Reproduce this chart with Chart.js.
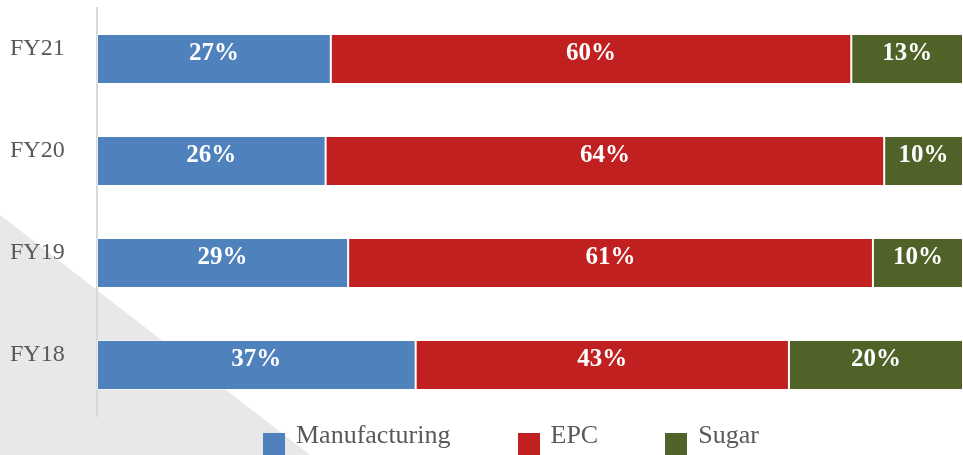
<!DOCTYPE html>
<html>
<head>
<meta charset="utf-8">
<script src="https://cdn.jsdelivr.net/npm/chart.js@4"></script>
<style>
  body { margin: 0; background: #fff; }
  #wrap { position: relative; width: 963px; height: 455px; overflow: hidden; }
  #chart { position: absolute; left: 0; top: 0; }
  #legend { position: absolute; left: 263px; top: 422px; display: flex; gap: 67px;
            font-family: "Liberation Serif", serif; font-size: 26px; line-height: 26px; color: #595959; }
  #legend .item { display: flex; align-items: flex-start; white-space: nowrap; }
  #legend .box { width: 22px; height: 22px; margin-top: 11px; margin-right: 11px; }
</style>
</head>
<body>
<div id="wrap">
  <canvas id="chart" width="963" height="455"></canvas>
  <div id="legend"></div>
</div>
<script>
// categories, top to bottom
var years = ['FY21', 'FY20', 'FY19', 'FY18'];
var seriesNames = ['Manufacturing', 'EPC', 'Sugar'];

// share of revenue (%)
var manufacturing = [27.0, 26.4, 29.0, 36.8];
var epc = [60.1, 64.5, 60.6, 43.1];
var sugar = [12.9, 9.1, 10.4, 20.1];

// labels as printed on the bars
var manufacturingLabels = ['27%', '26%', '29%', '37%'];
var epcLabels = ['60%', '64%', '61%', '43%'];
var sugarLabels = ['13%', '10%', '10%', '20%'];

var colors = ['#4f81bd', '#c0201f', '#4f6228'];
var barLabels = [manufacturingLabels, epcLabels, sugarLabels];

// grey triangle behind the chart
var backdrop = {
  id: 'backdrop',
  beforeDraw: function(chart) {
    var ctx = chart.ctx;
    ctx.save();
    ctx.fillStyle = '#fff';
    ctx.fillRect(0, 0, chart.width, chart.height);
    ctx.fillStyle = '#e8e8e8';
    ctx.beginPath();
    ctx.moveTo(0, 215);
    ctx.lineTo(310, chart.height);
    ctx.lineTo(0, chart.height);
    ctx.closePath();
    ctx.fill();
    ctx.restore();
  }
};

// white percentage labels in the middle of each segment
var segmentLabels = {
  id: 'segmentLabels',
  afterDatasetsDraw: function(chart) {
    var ctx = chart.ctx;
    ctx.save();
    ctx.font = 'bold 25px "Liberation Serif", serif';
    ctx.fillStyle = '#fff';
    ctx.textAlign = 'center';
    ctx.textBaseline = 'alphabetic';
    chart.data.datasets.forEach(function(ds, i) {
      chart.getDatasetMeta(i).data.forEach(function(bar, j) {
        var p = bar.getProps(['x', 'y', 'base'], true);
        ctx.fillText(barLabels[i][j], (p.x + p.base) / 2, p.y + 1);
      });
    });
    ctx.restore();
  }
};

var ctx = document.getElementById('chart');
var chart = new Chart(ctx, {
  type: 'bar',
  data: {
    labels: years,
    datasets: [manufacturing, epc, sugar].map(function(vals, i) {
      return {
        label: seriesNames[i],
        data: vals,
        backgroundColor: colors[i],
        borderColor: 'rgba(255,255,255,0.45)',
        borderWidth: 1,
        borderSkipped: false,
        categoryPercentage: 1,
        barPercentage: 0.49
      };
    })
  },
  options: {
    indexAxis: 'y',
    responsive: false,
    animation: false,
    layout: { padding: { left: 10, top: 8, bottom: 39, right: 0 } },
    plugins: {
      legend: { display: false },
      tooltip: { enabled: false }
    },
    scales: {
      x: { stacked: true, min: 0, max: 100, display: false },
      y: {
        stacked: true,
        grid: { display: false, drawTicks: false },
        border: { display: true, color: '#d9d9d9', width: 2 },
        ticks: {
          crossAlign: 'far',
          labelOffset: -10,
          padding: 0,
          color: '#595959',
          font: { family: '"Liberation Serif", serif', size: 24, lineHeight: 0.5 }
        },
        afterFit: function(scale) { scale.width = 87; }
      }
    }
  },
  plugins: [backdrop, segmentLabels]
});

// legend built from the datasets
var legend = document.getElementById('legend');
chart.data.datasets.forEach(function(ds) {
  var item = document.createElement('div');
  item.className = 'item';
  var box = document.createElement('span');
  box.className = 'box';
  box.style.background = ds.backgroundColor;
  var txt = document.createElement('span');
  txt.textContent = ds.label;
  item.appendChild(box);
  item.appendChild(txt);
  legend.appendChild(item);
});
</script>
</body>
</html>
